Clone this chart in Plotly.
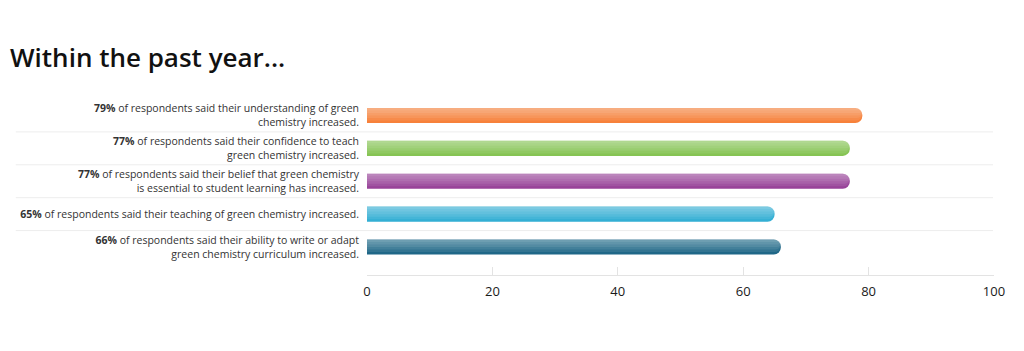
import plotly.graph_objects as go

pct = [79, 77, 77, 65, 66]
rest = [
    "of respondents said their understanding of green<br>chemistry increased.",
    "of respondents said their confidence to teach<br>green chemistry increased.",
    "of respondents said their belief that green chemistry<br>is essential to student learning has increased.",
    "of respondents said their teaching of green chemistry increased.",
    "of respondents said their ability to write or adapt<br>green chemistry curriculum increased.",
]
base_colors = ["#F7813A", "#86C454", "#984399", "#33AFD4", "#1F6787"]
x_ticks = [0, 20, 40, 60, 80, 100]

n = len(pct)
ypos = list(range(n - 1, -1, -1))
labels = [f"<b>{p}%</b> {r}" for p, r in zip(pct, rest)]

BW = 0.46
fig = go.Figure()
fig.add_trace(go.Bar(
    x=pct, y=ypos, orientation="h", width=BW,
    marker=dict(color=base_colors, cornerradius="50%", line=dict(width=0)),
    hoverinfo="skip", showlegend=False,
))
# soft top-to-bottom sheen: stacked translucent white strips anchored to the bar top
layers = 6
for k in range(1, layers):
    w = BW * k / layers
    fig.add_trace(go.Bar(
        x=pct, y=ypos, orientation="h", width=w, offset=BW / 2 - w,
        marker=dict(color="rgba(255,255,255,0.085)", cornerradius="50%", line=dict(width=0)),
        hoverinfo="skip", showlegend=False,
    ))

L, R, T, B = 366.5, 30, 98.5, 76
plot_w = 1024 - L - R
yr = [-0.85, n - 0.5]
shapes = []
for k in range(n - 1):
    yv = k + 0.5
    shapes.append(dict(
        type="line", xref="paper", yref="y",
        x0=(15 - L) / plot_w, x1=(993 - L) / plot_w, y0=yv, y1=yv,
        line=dict(color="#EDEDED", width=1), layer="below",
    ))

fig.update_layout(
    width=1024, height=351,
    margin=dict(l=L, r=R, t=T, b=B, autoexpand=False),
    paper_bgcolor="white", plot_bgcolor="white",
    barmode="overlay",
    title=dict(text="Within the past year...", x=10 / 1024, xanchor="left",
               y=1 - 58 / 351, yanchor="middle", yref="container",
               font=dict(family="Open Sans", size=26, color="#111", weight=600)),
    shapes=shapes,
    font=dict(family="Open Sans", color="#333"),
)
fig.update_xaxes(
    range=[0, 100], tickvals=x_ticks, showgrid=False, zeroline=False,
    showline=True, linecolor="#E3E3E3", linewidth=1,
    ticks="inside", ticklen=8, tickcolor="#E3E3E3", tickwidth=1,
    tickfont=dict(family="Open Sans", size=13, color="#1a1a1a"),
    ticklabelstandoff=4, fixedrange=True, automargin=False,
)
fig.update_yaxes(
    range=yr, tickvals=ypos, ticktext=labels, showgrid=False, zeroline=False,
    showline=False, ticks="", tickfont=dict(family="Open Sans", size=10.5, color="#333"),
    ticklabelstandoff=7, fixedrange=True, automargin=False,
)
fig.write_html("out.html")
